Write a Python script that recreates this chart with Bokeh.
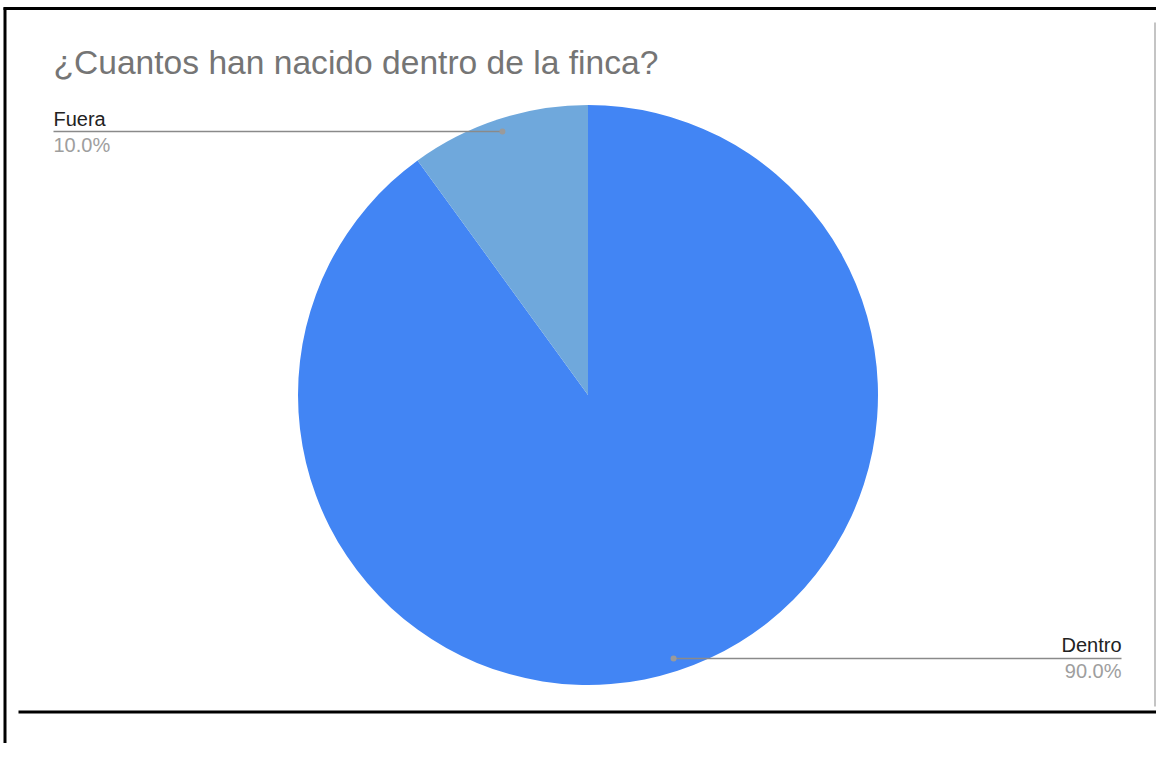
import numpy as np
from bokeh.plotting import figure
from bokeh.models import Range1d, ColumnDataSource
from bokeh.core.properties import value
from bokeh.embed import file_html
from bokeh.resources import INLINE

# ---- data ----
categories = ["Dentro", "Fuera"]
values = [90.0, 10.0]
colors = ["#4285F4", "#6FA8DC"]
title_text = "¿Cuantos han nacido dentro de la finca?"

W, H = 1156, 743
FONT = value("Liberation Sans")

p = figure(width=W, height=H, output_backend="svg", toolbar_location=None,
           x_range=Range1d(0, W), y_range=Range1d(-H, 0),
           min_border=0, outline_line_color=None)
p.axis.visible = False
p.grid.visible = False
p.background_fill_color = "white"
p.border_fill_color = "white"

# ---- pie ----
cx, cy, R = 587.5, -394.5, 290
vals = np.array(values)
frac = vals / vals.sum()
cum = np.concatenate([[0], np.cumsum(frac)])
start = np.pi / 2 - 2 * np.pi * cum[:-1]
end = np.pi / 2 - 2 * np.pi * cum[1:]
src = ColumnDataSource(dict(cat=categories, start=start, end=end, color=colors,
                            x=[cx] * len(categories), y=[cy] * len(categories)))
p.wedge(x="x", y="y", radius=R, radius_units="screen", start_angle="start",
        end_angle="end", direction="clock", fill_color="color", line_color=None,
        source=src)

# ---- leader lines and labels ----
mid = (start + end) / 2
rr = 0.955 * R
dx = cx + rr * np.cos(mid)
dy = cy + rr * np.sin(mid)
label_x = [1121, 53]      # Dentro right-aligned, Fuera left-aligned
align = ["right", "left"]
for i, cat in enumerate(categories):
    px, py = dx[i], dy[i]
    p.segment(x0=[px], y0=[py], x1=[label_x[i]], y1=[py], line_color="#8a8a8a", line_width=1.5)
    p.scatter(x=[px], y=[py], size=6, fill_color="#9a9a9a", line_color=None)
    p.text(x=[label_x[i]], y=[py + 13], text=[cat], text_font=FONT, text_font_size="20px",
           text_color="#222222", text_align=align[i], text_baseline="alphabetic")
    p.text(x=[label_x[i]], y=[py - 13], text=[f"{frac[i]*100:.1f}%"], text_font=FONT,
           text_font_size="20px", text_color="#9e9e9e", text_align=align[i],
           text_baseline="alphabetic")

# ---- title ----
p.text(x=[53], y=[-62], text=[title_text], text_font=FONT, text_font_size="33.6px",
       text_color="#757575", text_align="left", text_baseline="alphabetic")

# ---- frame decorations ----
p.segment(x0=[3], y0=[-8], x1=[W], y1=[-8], line_color="black", line_width=3)
p.segment(x0=[4.5], y0=[-7], x1=[4.5], y1=[-H], line_color="black", line_width=3)
p.segment(x0=[18], y0=[-711.5], x1=[1158], y1=[-711.5], line_color="black", line_width=3)
p.segment(x0=[1154.5], y0=[-22], x1=[1154.5], y1=[-706], line_color="#c4c4c4", line_width=2)

open("out.html", "w").write(file_html(p, INLINE))
